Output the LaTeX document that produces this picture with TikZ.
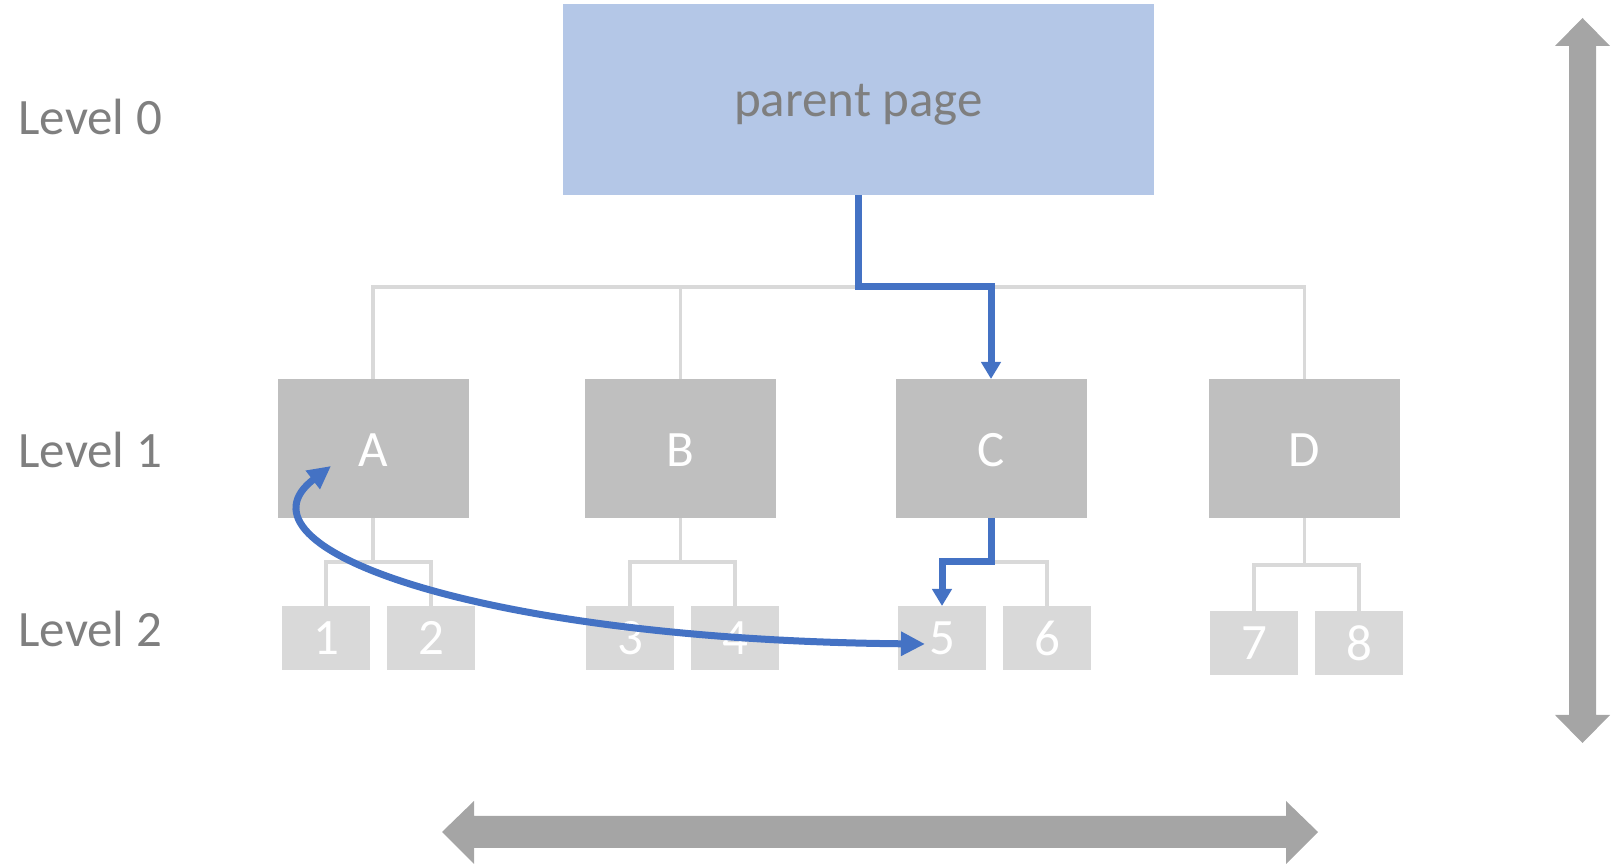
\documentclass[tikz,border=0pt]{standalone}
\usepackage{fontspec}
\setmainfont{Carlito}
\usetikzlibrary{arrows.meta}
\definecolor{pblue}{HTML}{B4C7E7}
\definecolor{lvlone}{HTML}{BFBFBF}
\definecolor{lvltwo}{HTML}{D9D9D9}
\definecolor{treegray}{HTML}{D9D9D9}
\definecolor{arrowblue}{HTML}{4472C4}
\definecolor{biggray}{HTML}{A5A5A5}
\definecolor{txtgray}{HTML}{7F7F7F}
\newcommand{\dropby}[2]{\raisebox{-#1}[\height][\depth]{#2}}
\begin{document}
\begin{tikzpicture}[x=0.5pt,y=-0.5pt,
  txt/.style={font=\fontsize{25.5}{30}\selectfont},
  levellabel/.style={txt, text=txtgray, anchor=west, inner sep=0pt},
  parentbox/.style={txt, fill=pblue, text=txtgray, minimum width=295.5pt, minimum height=95.5pt, inner sep=0pt, outer sep=0pt},
  onebox/.style={txt, fill=lvlone, text=white, minimum width=95.5pt, minimum height=69.5pt, inner sep=0pt, outer sep=0pt},
  twobox/.style={txt, fill=lvltwo, text=white, minimum width=44pt, minimum height=32pt, inner sep=0pt, outer sep=0pt},
  treeline/.style={draw=treegray, line width=1.8pt},
  blueline/.style={draw=arrowblue, line width=3.5pt, line join=miter, -{Triangle[length=8.5pt,width=9.5pt]}},
  bluecurve/.style={draw=arrowblue, line width=3.5pt, {Triangle[length=11.5pt,width=11pt]}-{Triangle[length=12pt,width=11.5pt]}},
  bigarrow/.style={fill=biggray}
]
\useasboundingbox (0,0) rectangle (1624,865);

% level labels
\node[levellabel] (L0) at (18,117) {Level 0};
\node[levellabel] (L1) at (18,450) {Level 1};
\node[levellabel] (L2) at (18,629) {Level 2};

% parent
\node[parentbox] (P) at (858.5,99.5) {\dropby{2.5pt}{parent page}};

% level 1
\node[onebox] (A) at (373,448.5) {\dropby{1pt}{A}};
\node[onebox] (B) at (680.5,448.5) {\dropby{1pt}{B}};
\node[onebox] (C) at (991,448.5) {\dropby{1pt}{C}};
\node[onebox] (D) at (1304.5,448.5) {\dropby{1pt}{D}};

% level 2
\node[twobox] (n1) at (326,638) {1};
\node[twobox] (n2) at (431,638) {2};
\node[twobox] (n3) at (630,638) {3};
\node[twobox] (n4) at (735,638) {4};
\node[twobox] (n5) at (942,638) {5};
\node[twobox] (n6) at (1047,638) {6};
\node[twobox] (n7) at (1254,643) {7};
\node[twobox] (n8) at (1359,643) {8};

% gray tree lines
\draw[treeline] (A.north) -- (A.north |- 0,287) -- (D.north |- 0,287) -- (D.north);
\draw[treeline] (B.north) -- (B.north |- 0,287);
\draw[treeline] (P.south) -- (P.south |- 0,287);
\draw[treeline] (A.south) -- (A.south |- 0,562);
\draw[treeline] (n1.north) -- (n1.north |- 0,562) -- (n2.north |- 0,562) -- (n2.north);
\draw[treeline] (B.south) -- (B.south |- 0,562);
\draw[treeline] (n3.north) -- (n3.north |- 0,562) -- (n4.north |- 0,562) -- (n4.north);
\draw[treeline] (C.south |- 0,562) -- (n6.north |- 0,562) -- (n6.north);
\draw[treeline] (D.south) -- (D.south |- 0,565);
\draw[treeline] (n7.north) -- (n7.north |- 0,565) -- (n8.north |- 0,565) -- (n8.north);

% blue path arrows
\draw[blueline] (P.south) -- (P.south |- 0,287) -| (C.north);
\draw[blueline] (C.south) -- (C.south |- 0,562) -| (n5.north);

% curved arrow
\coordinate (aIn) at (331,466);
\coordinate (fiveIn) at (925,644);
\draw[bluecurve] (aIn) .. controls (224,548) and (480,640) .. (fiveIn);

% big gray arrows
\fill[bigarrow] (1569,46) -- (1555,46) -- (1582.5,18) -- (1610,46) -- (1596,46) -- (1596,715) -- (1610,715) -- (1582.5,743) -- (1555,715) -- (1569,715) -- cycle;
\fill[bigarrow] (474,816) -- (474,801) -- (442,832) -- (474,864) -- (474,848) -- (1286,848) -- (1286,864) -- (1318,832) -- (1286,801) -- (1286,816) -- cycle;
\end{tikzpicture}
\end{document}
